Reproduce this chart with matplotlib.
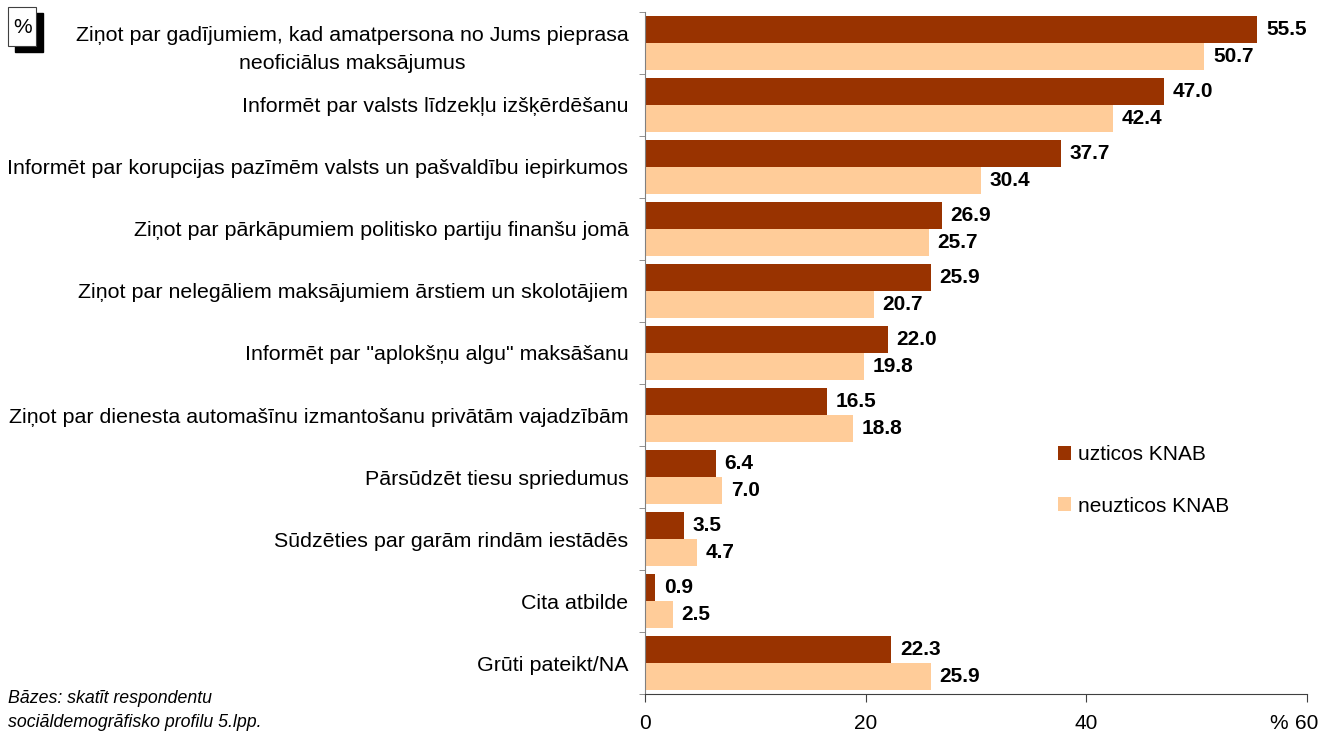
import matplotlib.pyplot as plt
import numpy as np
from matplotlib.patches import Rectangle

plt.rcParams['font.family'] = ['Liberation Sans', 'DejaVu Sans']

# dati
categories = [
    'Ziņot par gadījumiem, kad amatpersona no Jums pieprasa\nneoficiālus maksājumus',
    'Informēt par valsts līdzekļu izšķērdēšanu',
    'Informēt par korupcijas pazīmēm valsts un pašvaldību iepirkumos',
    'Ziņot par pārkāpumiem politisko partiju finanšu jomā',
    'Ziņot par nelegāliem maksājumiem ārstiem un skolotājiem',
    'Informēt par "aplokšņu algu" maksāšanu',
    'Ziņot par dienesta automašīnu izmantošanu privātām vajadzībām',
    'Pārsūdzēt tiesu spriedumus',
    'Sūdzēties par garām rindām iestādēs',
    'Cita atbilde',
    'Grūti pateikt/NA',
]
uzticos = [55.5, 47.0, 37.7, 26.9, 25.9, 22.0, 16.5, 6.4, 3.5, 0.9, 22.3]
neuzticos = [50.7, 42.4, 30.4, 25.7, 20.7, 19.8, 18.8, 7.0, 4.7, 2.5, 25.9]
series_names = ['uzticos KNAB', 'neuzticos KNAB']
xticks = [0, 20, 40, 60]

dark = '#993300'
light = '#FFCC99'
fs = 15

fig = plt.figure(figsize=(13.22, 7.31), dpi=100)
ax = fig.add_axes([0.488, 0.0506, 0.5007, 0.933])

n = len(categories)
y = np.arange(n)
h = 0.44
b1 = ax.barh(y - h / 2, uzticos, height=h, color=dark, label=series_names[0])
b2 = ax.barh(y + h / 2, neuzticos, height=h, color=light, label=series_names[1])

for bars, vals in [(b1, uzticos), (b2, neuzticos)]:
    for bar, v in zip(bars, vals):
        ax.text(v + 0.8, bar.get_y() + bar.get_height() / 2, f'{v:.1f}',
                va='center', ha='left', fontsize=fs, fontweight='bold')

ax.set_ylim(n - 0.5, -0.5)
ax.set_xlim(0, 60)
ax.set_yticks(y)
ax.set_yticklabels(categories, fontsize=15.4, ha='right')
for lab in ax.get_yticklabels():
    lab.set_multialignment('center')
    lab.set_linespacing(1.6)
ax.set_yticks(np.arange(n + 1) - 0.5, minor=True)
ax.tick_params(axis='y', which='major', length=0, pad=12)
ax.tick_params(axis='y', which='minor', length=4, color='#808080')

ax.set_xticks(xticks)
ax.set_xticklabels([str(t) for t in xticks], fontsize=fs)
ax.tick_params(axis='x', length=5.5, pad=9, color='#404040')
ax.text(57.4, -0.0295, '%', transform=ax.get_xaxis_transform(), fontsize=fs,
        ha='center', va='top')

for s in ['top', 'right']:
    ax.spines[s].set_visible(False)
ax.spines['left'].set_color('#808080')
ax.spines['bottom'].set_color('#404040')

ax.legend(loc='upper left', bbox_to_anchor=(0.595, 0.392), frameon=False,
          fontsize=fs, handlelength=0.65, handleheight=0.65,
          handletextpad=0.3, labelspacing=1.55)

# % lodziņš
fig.add_artist(Rectangle((0.01135, 0.9289), 0.0212, 0.0534, transform=fig.transFigure,
                         facecolor='black', edgecolor='black'))
fig.add_artist(Rectangle((0.00605, 0.937), 0.0212, 0.0534, transform=fig.transFigure,
                         facecolor='white', edgecolor='#404040', linewidth=0.8))
fig.text(0.0167, 0.963, '%', ha='center', va='center', fontsize=fs)

fig.text(0.006, 0.044, 'Bāzes: skatīt respondentu', fontsize=12.8, style='italic', va='center')
fig.text(0.006, 0.012, 'sociāldemogrāfisko profilu 5.lpp.', fontsize=12.8, style='italic', va='center')

fig.savefig('out.png', dpi=100)
